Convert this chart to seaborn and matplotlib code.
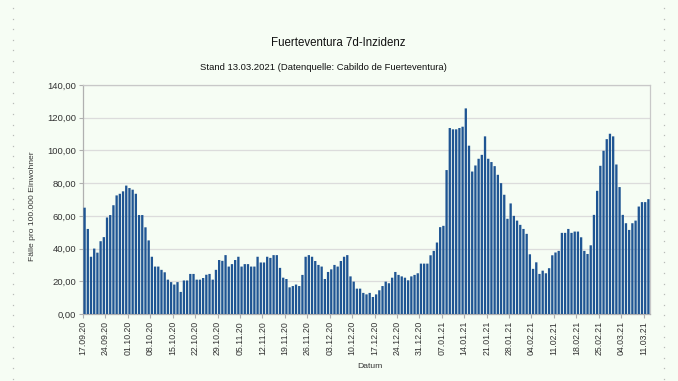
import numpy as np
import pandas as pd
import matplotlib
matplotlib.use("Agg")
import matplotlib.pyplot as plt
import seaborn as sns
from matplotlib.lines import Line2D

# ---- data ----
start_date = "2020-09-17"
incidence = [
    65, 52, 35, 40, 37.5, 44.5, 47, 59, 60.5, 66.5, 72.5, 73.5, 75, 78.5, 77, 76,
    73.5, 60.5, 60.5, 53, 45, 35, 29, 29, 27, 25.5, 21, 19.5, 18, 19.5, 13.5, 20.5,
    20.5, 24.5, 24.5, 21, 21, 22, 24, 24.5, 21, 27, 33, 32.5, 36, 29, 30.5, 33, 35,
    29, 30.5, 30.5, 29, 29, 35, 31.5, 31.5, 35, 34.3, 36, 36, 28.2, 22.2, 21.4,
    16.3, 17.1, 18, 17.1, 23.9, 35, 36, 35, 32.4, 30, 29, 21.4, 25.7, 27.3, 30,
    29, 32.4, 35, 36, 23, 19.8, 15.5, 15.5, 12.9, 12, 12.9, 10.4, 12, 14.5, 17.1,
    19.8, 18.8, 22.2, 25.7, 23.9, 23, 22.2, 20.6, 23, 23.9, 24.9,
    30.8, 30.8, 30.8, 35.9, 38.6, 43.7, 53.1, 53.9, 88, 113.7, 112.9, 112.9, 113.7,
    114.5, 125.7, 102.9, 87.1, 90.8, 94.9, 97.3, 108.6, 94.9, 92.9, 90.4, 85.1, 80,
    72.9, 58.2, 67.6, 60, 57.1, 54.5, 52, 49, 36.5, 27.6, 31.6, 24.5, 26.5, 24.9, 28,
    35.9, 37.6, 38.6, 49.6, 49.6, 52, 49.6, 50.4, 50.4, 46.9, 38.6, 36.7, 42, 60.6,
    75.3, 90.6, 99.8, 106.9, 110.2, 108.6, 91.4, 77.6, 60.6, 55.5, 51.4, 55.5, 57.1,
    65.7, 68.4, 68.4, 70.2,
]
tick_labels = [
    "17.09.20", "24.09.20", "01.10.20", "08.10.20", "15.10.20", "22.10.20",
    "29.10.20", "05.11.20", "12.11.20", "19.11.20", "26.11.20", "03.12.20",
    "10.12.20", "17.12.20", "24.12.20", "31.12.20", "07.01.21", "14.01.21",
    "21.01.21", "28.01.21", "04.02.21", "11.02.21", "18.02.21", "25.02.21",
    "04.03.21", "11.03.21",
]
y_ticks = [0, 20, 40, 60, 80, 100, 120, 140]

dates = pd.date_range(start_date, periods=len(incidence), freq="D").strftime("%d.%m.%y")
df = pd.DataFrame({"Datum": dates, "Wert": incidence})

# ---- style ----
bg = "#f6fdf4"
sns.set_theme(style="white")
plt.rcParams["font.family"] = ["Liberation Sans", "DejaVu Sans"]

W, H = 678, 381
fig = plt.figure(figsize=(W / 100, H / 100), dpi=100, facecolor=bg)
ax = fig.add_axes([83 / W, 1 - 314 / H, (650 - 83) / W, (314 - 85) / H])
ax.set_facecolor(bg)

sns.barplot(data=df, x="Datum", y="Wert", color="#1f5593", saturation=1,
            width=0.72, ax=ax, zorder=3, linewidth=0)
for p in ax.patches:
    p.set_snap(False)
    p.set_antialiased(True)

ax.set_ylim(0, 140)
ax.set_xlim(-0.5, len(incidence) - 0.5)
ax.set_yticks(y_ticks)
ax.set_yticklabels([f"{v:.2f}".replace(".", ",") for v in y_ticks],
                   fontsize=6.8, color="#333333")
ax.grid(axis="y", color="#dcdcdc", linewidth=0.9, zorder=0)
ax.grid(axis="x", visible=False)

tick_pos = np.arange(0, len(incidence), 7)[:len(tick_labels)] - 0.5
ax.set_xticks(tick_pos)
ax.set_xticklabels(tick_labels, rotation=90, fontsize=6.3, color="#333333")
ax.tick_params(axis="both", which="major", length=3, width=0.8, color="#b0b0b0",
               pad=2, direction="out", bottom=True, left=True)

for side in ["left", "bottom", "right", "top"]:
    ax.spines[side].set_visible(True)
    ax.spines[side].set_color("#c8c8c8")
    ax.spines[side].set_linewidth(0.9)
ax.spines["left"].set_color("#b0b0b0")
ax.spines["bottom"].set_color("#b0b0b0")

ax.set_xlabel("")
ax.set_ylabel("")
fig.text(370 / W, 1 - 367 / H, "Datum", fontsize=6.1, color="#333333",
         ha="center", va="center")
fig.text(33 / W, 1 - 206 / H, "Fälle pro 100.000 Einwohner", fontsize=6.1,
         color="#333333", rotation=90, ha="center", va="center")

fig.text(338 / W, 1 - 43 / H, "Fuerteventura 7d-Inzidenz", fontsize=8.3,
         color="#111111", ha="center", va="center")
fig.text(323 / W, 1 - 68 / H,
         "Stand 13.03.2021 (Datenquelle: Cabildo de Fuerteventura)",
         fontsize=6.8, color="#111111", ha="center", va="center")

# faint edge dots (page decoration)
for xd in (13, 664):
    ys = np.arange(8, 381, 10.6)
    fig.add_artist(Line2D(np.full_like(ys, xd / W), 1 - ys / H, linestyle="none",
                          marker="s", markersize=0.9, markeredgewidth=0,
                          color="#b8bcb8", transform=fig.transFigure))

fig.savefig("out.png", dpi=100, facecolor=bg)
